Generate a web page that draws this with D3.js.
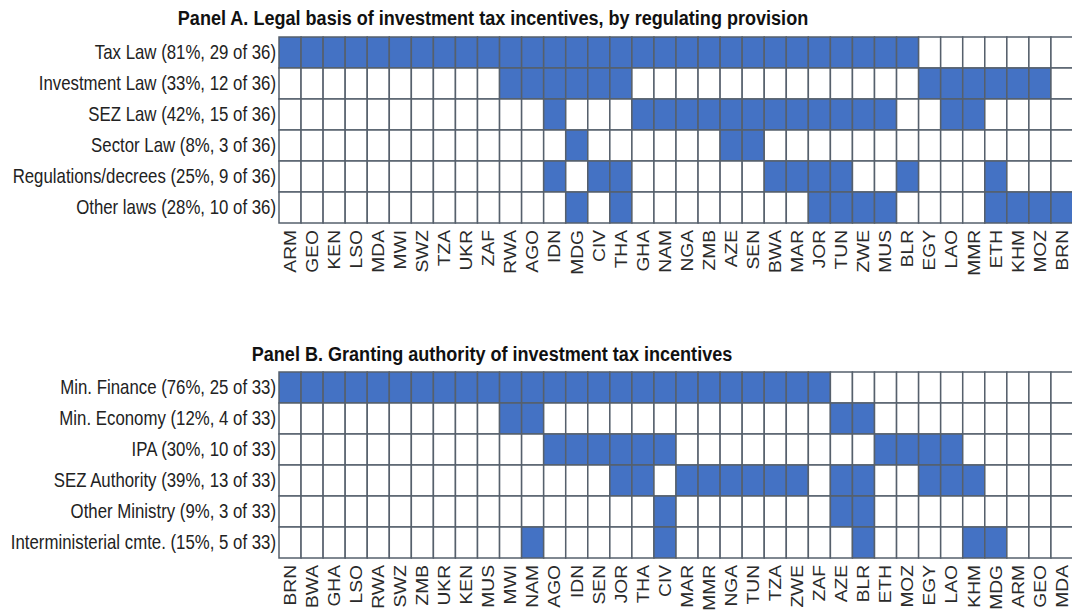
<!DOCTYPE html>
<html>
<head>
<meta charset="utf-8">
<script src="https://cdn.jsdelivr.net/npm/d3@7"></script>
<style>
  html, body { margin: 0; padding: 0; background: #fff; }
  svg { display: block; }
  .narrow { font-family: "Liberation Sans", Arial, sans-serif; }
  .ctry { font-family: "Liberation Sans", Arial, sans-serif; }
</style>
</head>
<body>
<svg id="chart" width="1072" height="610"></svg>
<script>
// ---------- Data ----------
const titleA = "Panel A. Legal basis of investment tax incentives, by regulating provision";
const countriesA = ["ARM","GEO","KEN","LSO","MDA","MWI","SWZ","TZA","UKR","ZAF","RWA","AGO","IDN","MDG","CIV","THA","GHA","NAM","NGA","ZMB","AZE","SEN","BWA","MAR","JOR","TUN","ZWE","MUS","BLR","EGY","LAO","MMR","ETH","KHM","MOZ","BRN"];
const rowsA = ["Tax Law (81%, 29 of 36)","Investment Law (33%, 12 of 36)","SEZ Law (42%, 15 of 36)","Sector Law (8%, 3 of 36)","Regulations/decrees (25%, 9 of 36)","Other laws (28%, 10 of 36)"];
const taxLaw = ["ARM","GEO","KEN","LSO","MDA","MWI","SWZ","TZA","UKR","ZAF","RWA","AGO","IDN","MDG","CIV","THA","GHA","NAM","NGA","ZMB","AZE","SEN","BWA","MAR","JOR","TUN","ZWE","MUS","BLR"];
const investmentLaw = ["RWA","AGO","IDN","MDG","CIV","THA","EGY","LAO","MMR","ETH","KHM","MOZ"];
const sezLaw = ["IDN","GHA","NAM","NGA","ZMB","AZE","SEN","BWA","MAR","JOR","TUN","ZWE","MUS","LAO","MMR"];
const sectorLaw = ["MDG","AZE","SEN"];
const regulations = ["IDN","CIV","THA","BWA","MAR","JOR","TUN","BLR","ETH"];
const otherLaws = ["MDG","THA","JOR","TUN","ZWE","MUS","ETH","KHM","MOZ","BRN"];
const filledA = [taxLaw, investmentLaw, sezLaw, sectorLaw, regulations, otherLaws];

const titleB = "Panel B. Granting authority of investment tax incentives";
const countriesB = ["BRN","BWA","GHA","LSO","RWA","SWZ","ZMB","UKR","KEN","MUS","MWI","NAM","AGO","IDN","SEN","JOR","THA","CIV","MAR","MMR","NGA","TUN","TZA","ZWE","ZAF","AZE","BLR","ETH","MOZ","EGY","LAO","KHM","MDG","ARM","GEO","MDA"];
const rowsB = ["Min. Finance (76%, 25 of 33)","Min. Economy (12%, 4 of 33)","IPA (30%, 10 of 33)","SEZ Authority (39%, 13 of 33)","Other Ministry (9%, 3 of 33)","Interministerial cmte. (15%, 5 of 33)"];
const minFinance = ["BRN","BWA","GHA","LSO","RWA","SWZ","ZMB","UKR","KEN","MUS","MWI","NAM","AGO","IDN","SEN","JOR","THA","CIV","MAR","MMR","NGA","TUN","TZA","ZWE","ZAF"];
const minEconomy = ["MWI","NAM","AZE","BLR"];
const ipa = ["AGO","IDN","SEN","JOR","THA","CIV","ETH","MOZ","EGY","LAO"];
const sezAuthority = ["JOR","THA","MAR","MMR","NGA","TUN","TZA","ZWE","AZE","BLR","EGY","LAO","KHM"];
const otherMinistry = ["CIV","AZE","BLR"];
const interministerial = ["NAM","CIV","BLR","KHM","MDG"];
const filledB = [minFinance, minEconomy, ipa, sezAuthority, otherMinistry, interministerial];

// ---------- Drawing ----------
const svg = d3.select("#chart");
const BLUE = "#4472C4";
const GRID = "#56606c";
const NARROW = 0.82;   // horizontal condensing (Arial Narrow look)

function panel(cfg) {
  const x = d3.scaleBand().domain(cfg.countries).range([279, 1073]).padding(0);
  const y = d3.scaleBand().domain(cfg.rows).range([cfg.top, cfg.top + 186]).padding(0);
  const g = svg.append("g");

  const cells = [];
  cfg.rows.forEach((r, i) => {
    const set = new Set(cfg.filled[i]);
    cfg.countries.forEach(c => cells.push({ r, c, on: set.has(c) }));
  });

  g.selectAll("rect.cell").data(cells).join("rect")
    .attr("class", "cell")
    .attr("x", d => x(d.c))
    .attr("y", d => y(d.r))
    .attr("width", x.bandwidth())
    .attr("height", y.bandwidth())
    .attr("fill", d => d.on ? BLUE : "#ffffff")
    .attr("stroke", GRID)
    .attr("stroke-width", 1.5);

  // left axis labels (condensed)
  const ya = g.append("g").attr("transform", "translate(279,0)")
    .call(d3.axisLeft(y).tickSize(0).tickPadding(3));
  ya.select(".domain").remove();
  ya.selectAll("text")
    .attr("class", "narrow")
    .style("font-size", "20.5px")
    .attr("fill", "#222")
    .attr("x", -3 / NARROW)
    .attr("transform", `scale(${NARROW},1)`);

  // bottom axis labels (rotated)
  const xa = g.append("g").attr("transform", `translate(0,${cfg.top + 186})`)
    .call(d3.axisBottom(x).tickSize(0).tickPadding(0));
  xa.select(".domain").remove();
  xa.selectAll("text")
    .attr("class", "ctry")
    .style("font-size", "16px")
    .attr("fill", "#2a2a2a")
    .attr("transform", "rotate(-90) scale(1.2,1)")
    .attr("x", -7 / 1.2)
    .attr("y", 0)
    .attr("dy", "0.36em")
    .attr("text-anchor", "end");

  svg.append("text")
    .attr("class", "narrow")
    .attr("transform", `translate(${cfg.titleX},${cfg.titleY}) scale(0.86,1)`)
    .attr("text-anchor", "middle")
    .style("font-size", "21px")
    .style("font-weight", "bold")
    .attr("fill", "#111")
    .text(cfg.title);
}

panel({ title: titleA, countries: countriesA, rows: rowsA, filled: filledA, top: 37, titleX: 493, titleY: 25 });
panel({ title: titleB, countries: countriesB, rows: rowsB, filled: filledB, top: 372, titleX: 492, titleY: 361 });
</script>
</body>
</html>
